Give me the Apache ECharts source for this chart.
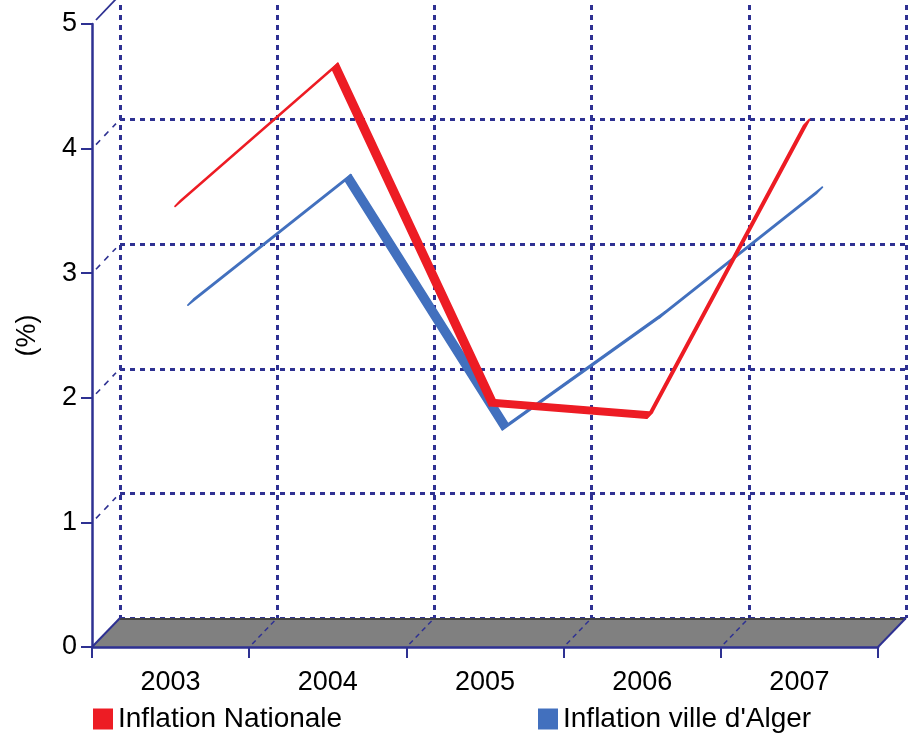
<!DOCTYPE html>
<html><head><meta charset="utf-8">
<script src="https://cdn.jsdelivr.net/npm/echarts@6/dist/echarts.min.js"></script>
<style>html,body{margin:0;padding:0;background:#fff}#c{width:914px;height:738px}</style>
</head><body><div id="c"></div>
<script>
// ---- data ----
const categories = ['2003', '2004', '2005', '2006', '2007'];
const nationale = [3.5, 4.6, 1.9, 1.8, 4.15];
const alger = [2.6, 3.6, 1.6, 2.5, 3.5];
const yTicks = [0, 1, 2, 3, 4, 5];
const seriesNames = ['Inflation Nationale', "Inflation ville d'Alger"];

// ---- style ----
const AX = '#2E3192';
const RED = '#ED1C24', BLUE = '#4270BE';
const DEPTH = [28, -29];
const FONT = '"Liberation Sans", Arial, sans-serif';

function segs(vals) { return vals.slice(0, -1).map((v, i) => [i, v, i + 1, vals[i + 1]]); }

function ribbon(f0, f1, color) {
  return function (params, api) {
    const a = api.coord([api.value(0), api.value(1)]);
    const b = api.coord([api.value(2), api.value(3)]);
    const o0 = [DEPTH[0] * f0, DEPTH[1] * f0], o1 = [DEPTH[0] * f1, DEPTH[1] * f1];
    return {
      type: 'polygon',
      shape: { points: [[a[0] + o0[0], a[1] + o0[1]], [b[0] + o0[0], b[1] + o0[1]], [b[0] + o1[0], b[1] + o1[1]], [a[0] + o1[0], a[1] + o1[1]]] },
      style: { fill: color, stroke: color, lineWidth: 1.8, lineJoin: 'round' }
    };
  };
}

function decor(params, api) {
  const cs = params.coordSys;
  const x0 = cs.x, x1 = cs.x + cs.width, yb = cs.y + cs.height;
  const dx = DEPTH[0], dy = DEPTH[1];
  const n = categories.length;
  const ch = [];
  ch.push({ type: 'polygon', shape: { points: [[x0, yb], [x1, yb], [x1 + dx, yb + dy], [x0 + dx, yb + dy]] }, style: { fill: '#808080' } });
  ch.push({ type: 'line', shape: { x1: x0 + dx, y1: yb + dy + 1, x2: x1 + dx, y2: yb + dy + 1 }, style: { stroke: '#000', lineWidth: 1.2 } });
  ch.push({ type: 'line', shape: { x1: x0, y1: yb, x2: x0 + dx, y2: yb + dy }, style: { stroke: AX, lineWidth: 2 } });
  ch.push({ type: 'line', shape: { x1: x1, y1: yb, x2: x1 + dx, y2: yb + dy }, style: { stroke: AX, lineWidth: 2 } });
  for (let i = 1; i < n; i++) {
    const x = x0 + i * cs.width / n;
    ch.push({ type: 'line', shape: { x1: x + 3, y1: yb - 3, x2: x + dx, y2: yb + dy }, style: { stroke: AX, lineWidth: 1.5, lineDash: [5, 4] } });
  }
  yTicks.forEach(v => {
    if (v === 0) return;
    const y = api.coord([0, v])[1];
    const last = v === yTicks[yTicks.length - 1];
    ch.push({ type: 'line', shape: { x1: x0 + 4, y1: y - 4, x2: x0 + dx - 4, y2: y + dy + 4 }, style: { stroke: AX, lineWidth: last ? 1.8 : 1.6, lineDash: last ? null : [6, 6] } });
  });
  return { type: 'group', children: ch };
}

const chart = echarts.init(document.getElementById('c'), null, { renderer: 'canvas' });
chart.setOption({
  animation: false,
  backgroundColor: '#fff',
  textStyle: { fontFamily: FONT },
  grid: [
    { left: 92, top: 24, width: 786, height: 623, containLabel: false, outerBoundsMode: 'none' },
    { left: 120, top: -5, width: 786, height: 623, containLabel: false, outerBoundsMode: 'none' }
  ],
  xAxis: [
    {
      type: 'category', data: categories, gridIndex: 0, boundaryGap: true, z: 10,
      axisLine: { show: true, lineStyle: { color: AX, width: 2.5 } },
      axisTick: { show: true, interval: 0, length: 11, lineStyle: { color: AX, width: 2 } },
      axisLabel: { color: '#000', fontSize: 27, fontFamily: FONT, margin: 22, interval: 0 },
      splitLine: { show: false }
    },
    {
      type: 'category', data: categories, gridIndex: 1, boundaryGap: true, z: 0,
      axisLine: { show: false }, axisTick: { show: false }, axisLabel: { show: false },
      splitLine: { show: true, interval: 0, lineStyle: { color: AX, width: 3, type: [5, 5] } }
    }
  ],
  yAxis: [
    {
      type: 'value', gridIndex: 0, min: 0, max: 5, interval: 1, z: 10,
      name: '(%)', nameLocation: 'middle', nameGap: 51, nameRotate: 90,
      nameTextStyle: { color: '#000', fontSize: 27, fontFamily: FONT },
      axisLine: { show: true, lineStyle: { color: AX, width: 2.5 } },
      axisTick: { show: true, length: 11, lineStyle: { color: AX, width: 2 } },
      axisLabel: { color: '#000', fontSize: 27, fontFamily: FONT, margin: 15 },
      splitLine: { show: false }
    },
    {
      type: 'value', gridIndex: 1, min: 0, max: 5, interval: 1, z: 0,
      axisLine: { show: false }, axisTick: { show: false }, axisLabel: { show: false },
      splitLine: { show: true, lineStyle: { color: AX, width: 3, type: [5, 5] } }
    }
  ],
  legend: [
    { data: [seriesNames[0]], left: 93, top: 705, icon: 'rect', itemWidth: 20, itemHeight: 21, padding: 0, selectedMode: false,
      textStyle: { fontSize: 28, color: '#000', fontFamily: FONT } },
    { data: [seriesNames[1]], left: 538, top: 705, icon: 'rect', itemWidth: 20, itemHeight: 21, padding: 0, selectedMode: false,
      textStyle: { fontSize: 28, color: '#000', fontFamily: FONT } }
  ],
  series: [
    { type: 'custom', name: 'decor', xAxisIndex: 0, yAxisIndex: 0, z: 2, silent: true, data: [[0, 0]], renderItem: decor },
    { type: 'custom', name: seriesNames[1], xAxisIndex: 0, yAxisIndex: 0, z: 3, itemStyle: { color: BLUE },
      data: segs(alger), renderItem: ribbon(0.62, 0.82, BLUE) },
    { type: 'custom', name: seriesNames[0], xAxisIndex: 0, yAxisIndex: 0, z: 4, itemStyle: { color: RED },
      data: segs(nationale), renderItem: ribbon(0.16, 0.36, RED) }
  ]
});
</script>
</body></html>
